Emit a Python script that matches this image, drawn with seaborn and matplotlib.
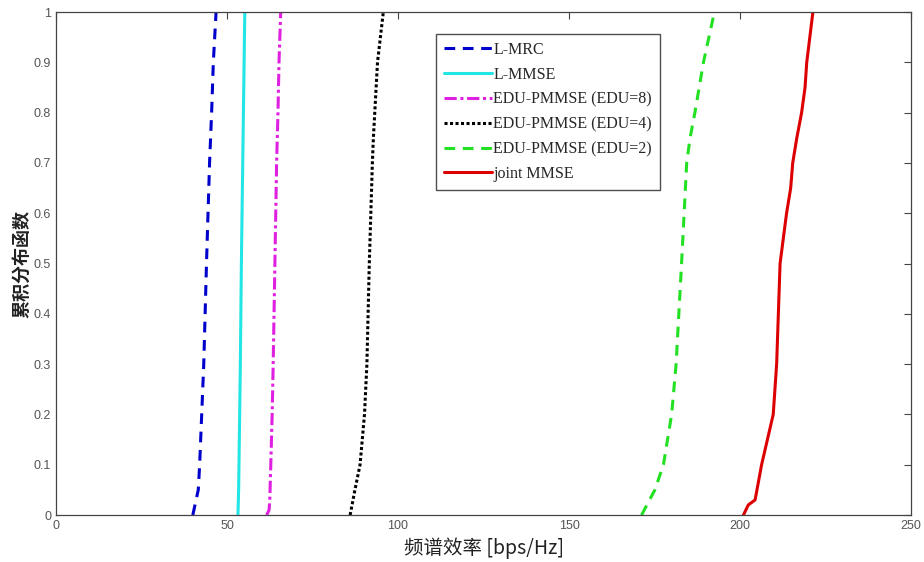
import matplotlib
matplotlib.use("Agg")
import matplotlib.pyplot as plt
import seaborn as sns

# CDF levels and spectral efficiency
cdf_lvls = [0, 0.05, 0.1, 0.2, 0.3, 0.5, 0.7, 0.75, 0.8, 0.9, 1.0]

lmrc_x = [40.0, 41.6, 42.0, 42.6, 43.2, 44.0, 44.9, 45.2, 45.5, 46.0, 46.8]
lmmse_x = [53.2, 53.4, 53.5, 53.7, 53.9, 54.2, 54.6, 54.7, 54.8, 55.0, 55.2]

edu8_y = [0, 0.01, 0.03, 0.1, 0.2, 0.3, 0.5, 0.7, 0.75, 0.8, 0.9, 1.0]
edu8_x = [61.6, 62.3, 62.5, 62.8, 63.2, 63.5, 64.0, 64.5, 64.7, 64.9, 65.2, 65.7]

edu4_x = [86.0, 87.4, 88.9, 90.2, 90.9, 91.6, 92.5, 92.8, 93.2, 94.0, 95.7]
edu2_x = [171.2, 175.1, 177.6, 180.0, 181.3, 182.9, 184.4, 185.4, 186.8, 189.3, 192.5]

joint_y = [0, 0.02, 0.03, 0.1, 0.2, 0.3, 0.5, 0.6, 0.65, 0.7, 0.75, 0.8, 0.85, 0.9, 1.0]
joint_x = [201.0, 202.4, 204.4, 206.3, 209.7, 210.7, 211.7, 213.6, 214.8, 215.4,
           216.6, 218.0, 219.0, 219.5, 221.3]

labels = ["L-MRC", "L-MMSE", "EDU-PMMSE (EDU=8)", "EDU-PMMSE (EDU=4)",
          "EDU-PMMSE (EDU=2)", "joint MMSE"]
colors = ["#0000cc", "#22e5e5", "#e020e0", "#000000", "#22e022", "#dd0000"]
styles = [(0, (3.5, 2.5)), "-", (0, (4, 1.2, 1, 1.2)), (0, (1, 0.8)), (0, (3.5, 2.5)), "-"]

series = [(lmrc_x, cdf_lvls), (lmmse_x, cdf_lvls), (edu8_x, edu8_y),
          (edu4_x, cdf_lvls), (edu2_x, cdf_lvls), (joint_x, joint_y)]

sns.set_style("white")
plt.rcParams["font.family"] = ["Liberation Sans", "DejaVu Sans"]

fig = plt.figure(figsize=(9.24, 5.62), dpi=100)
ax = fig.add_axes([0.0606, 0.0836, 0.9254, 0.895])

for (xs, ys), lab, col, ls in zip(series, labels, colors, styles):
    sns.lineplot(x=xs, y=ys, ax=ax, sort=False, estimator=None, color=col,
                 linestyle=ls, linewidth=2.2, label=lab)

ax.set_xlim(0, 250)
ax.set_ylim(0, 1)
ax.set_xticks([0, 50, 100, 150, 200, 250])
ax.set_yticks([i / 10 for i in range(11)])
ax.set_yticklabels(["0"] + [f"{i / 10:g}" for i in range(1, 10)] + ["1"])
ax.tick_params(direction="in", length=5, top=True, right=True, labelsize=9,
               labelcolor="#555555", color="#444444", width=0.8)
for s in ax.spines.values():
    s.set_color("#444444")
    s.set_linewidth(0.9)

cjk = ["Noto Sans CJK SC", "DejaVu Sans"]
ax.set_xlabel("频谱效率 [bps/Hz]", family=cjk, fontsize=14, color="#222222", labelpad=4)
ax.set_ylabel("累积分布函数", family=cjk, fontsize=13, color="#222222",
              fontweight="bold", labelpad=2)

leg = ax.legend(loc="upper left", bbox_to_anchor=(0.435, 0.972), frameon=True,
                fancybox=False, edgecolor="#222222", handlelength=3.0,
                handletextpad=0.1, borderpad=0.5, labelspacing=0.55,
                prop={"family": "Liberation Serif", "size": 11.5})
leg.get_frame().set_linewidth(1.0)

fig.savefig("out.png", dpi=100)
